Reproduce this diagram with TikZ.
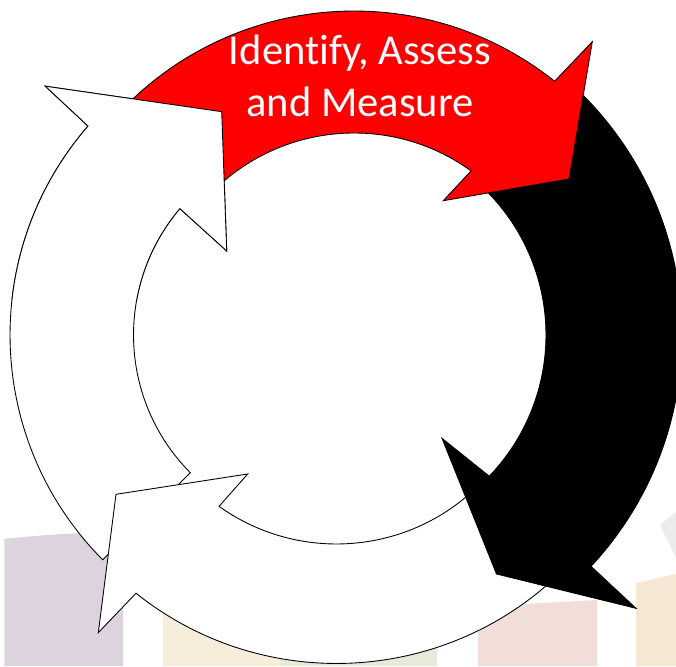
\documentclass[tikz,border=0pt]{standalone}
\usepackage{fontspec}
\setmainfont{Carlito}[Ligatures=CommonOff]
\definecolor{bgpurple}{RGB}{221,211,223}
\definecolor{bgyellow}{RGB}{246,238,218}
\definecolor{bggreen}{RGB}{230,234,218}
\definecolor{bgpink}{RGB}{241,222,216}
\definecolor{bgpeach}{RGB}{247,232,214}
\definecolor{bggrey}{RGB}{236,236,236}
\begin{document}
\begin{tikzpicture}[x=0.02cm,y=0.02cm,
  outl/.style={draw=black,line width=0.5pt,line join=miter},
  whitearrow/.style={outl,fill=white},
  redarrow/.style={outl,fill=red},
  blackarrow/.style={outl,fill=black},
  lbl/.style={text=white,font=\fontsize{24.2}{29}\selectfont,anchor=base,inner sep=0pt}]
\useasboundingbox (0,0) rectangle (676,666);
% faint background blocks
\fill[bgpurple] (4.3,0) -- (4.3,127) .. controls (40,131) and (80,133.5) .. (123,134) -- (123,0) -- cycle;
\fill[bgyellow] (163,0) -- (163,53) -- (280,54) -- (280,0) -- cycle;
\fill[bggreen] (280,0) -- (280,54) -- (437,56) -- (437,0) -- cycle;
\fill[bgpink] (478,0) -- (478,58) .. controls (520,62) and (560,64) .. (597,66) -- (597,0) -- cycle;
\fill[bgpeach] (636,0) -- (636,83) -- (676,92) -- (676,0) -- cycle;
\fill[bggrey] (660,141) -- (676,154) -- (676,108) -- cycle;
% left white arrow
\begin{scope}[shift={(329,331)}]
\path[whitearrow] (-135.2:319) arc[start angle=-135.2,end angle=-220.93,radius=6.38cm]
  -- (-283.7,248.8) -- (-107.3,223.3) -- (-102.3,84)
  -- (139.72:195.5) arc[start angle=139.72,end angle=224.8,radius=3.91cm] -- cycle;
\end{scope}
% bottom white arrow
\begin{scope}[shift={(336.5,324)}]
\path[whitearrow] (-45:321.5) arc[start angle=-45,end angle=-128.6,radius=6.43cm]
  -- (-238.2,-290.7) -- (-220.5,-152.3) -- (-88.8,-132)
  -- (-125.55:202) arc[start angle=-125.55,end angle=-45,radius=4.04cm] -- cycle;
\end{scope}
% black arrow
\begin{scope}[shift={(342,331)}]
\path[blackarrow] (47:340) arc[start angle=47,end angle=-42.9,radius=6.8cm]
  -- (294,-273.3) -- (154.5,-239) -- (100,-103.3)
  -- (-43.8:204) arc[start angle=-43.8,end angle=47,radius=4.08cm] -- cycle;
\end{scope}
% red arrow
\begin{scope}[shift={(354,333)}]
\path[redarrow] (140:322) arc[start angle=140,end angle=51.44,radius=6.44cm]
  -- (238.3,291.3) -- (215,154) -- (89.3,132.3)
  -- (54.16:200) arc[start angle=54.16,end angle=140,radius=4cm] -- cycle;
\end{scope}
% head of the left arrow lies over the tail of the red one
\begin{scope}
\clip (0,366) rectangle (260,666);
\begin{scope}[shift={(329,331)}]
\path[whitearrow] (-135.2:319) arc[start angle=-135.2,end angle=-220.93,radius=6.38cm]
  -- (-283.7,248.8) -- (-107.3,223.3) -- (-102.3,84)
  -- (139.72:195.5) arc[start angle=139.72,end angle=224.8,radius=3.91cm] -- cycle;
\end{scope}
\end{scope}
% label
\node[lbl] (t1) at (360,601) {Identify, Assess};
\node[lbl] (t2) at (360,549.3) {and Measure};
\end{tikzpicture}
\end{document}
